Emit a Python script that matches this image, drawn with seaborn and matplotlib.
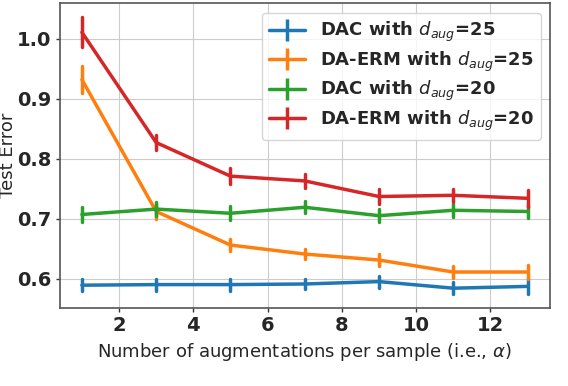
import seaborn as sns
import matplotlib
matplotlib.use("Agg")
import matplotlib.pyplot as plt
from matplotlib.lines import Line2D
import pandas as pd

alphas = [1, 3, 5, 7, 9, 11, 13]

dac_25 = [0.589, 0.590, 0.590, 0.591, 0.595, 0.584, 0.587]
dac_25_err = [0.010, 0.010, 0.010, 0.008, 0.010, 0.010, 0.012]
erm_25 = [0.932, 0.712, 0.656, 0.641, 0.631, 0.611, 0.611]
erm_25_err = [0.022, 0.012, 0.010, 0.008, 0.010, 0.010, 0.012]
dac_20 = [0.707, 0.716, 0.709, 0.719, 0.705, 0.714, 0.712]
dac_20_err = [0.012, 0.012, 0.012, 0.010, 0.011, 0.011, 0.011]
erm_20 = [1.011, 0.827, 0.771, 0.763, 0.737, 0.739, 0.734]
erm_20_err = [0.025, 0.013, 0.013, 0.012, 0.012, 0.011, 0.014]

labels = [r"DAC with $d_{aug}$=25", r"DA-ERM with $d_{aug}$=25",
          r"DAC with $d_{aug}$=20", r"DA-ERM with $d_{aug}$=20"]
means = [dac_25, erm_25, dac_20, erm_20]
errs = [dac_25_err, erm_25_err, dac_20_err, erm_20_err]

# two rows per point (mean -/+ err) so the min-max interval gives the bar
rows = []
for lab, m, e in zip(labels, means, errs):
    for x, v, d in zip(alphas, m, e):
        rows.append((lab, x, v - d))
        rows.append((lab, x, v + d))
df = pd.DataFrame(rows, columns=["method", "alpha", "error"])

sns.set_style("whitegrid", {"grid.color": "#cccccc", "axes.edgecolor": "#555555"})
colors = sns.color_palette("tab10", 4)

fig, ax = plt.subplots(figsize=(5.68, 3.86), dpi=100)
sns.lineplot(data=df, x="alpha", y="error", hue="method", hue_order=labels,
             palette=colors, errorbar=("pi", 100), err_style="bars",
             err_kws={"linewidth": 2.5, "capsize": 0}, linewidth=2.5,
             legend=False, ax=ax)

ax.set_xlabel(r"Number of augmentations per sample (i.e., $\alpha$)", fontsize=13)
ax.set_ylabel("Test Error", fontsize=13)
ax.yaxis.set_label_coords(-0.087, 0.5)
ax.set_xticks([2, 4, 6, 8, 10, 12])
ax.set_yticks([0.6, 0.7, 0.8, 0.9, 1.0])
for t in ax.get_xticklabels() + ax.get_yticklabels():
    t.set_fontweight("bold")
    t.set_fontsize(14)
ax.tick_params(length=3, width=1, color="#333333", pad=3, left=True, bottom=True)
for s in ax.spines.values():
    s.set_linewidth(1.2)

handles = []
for c in colors:
    h = Line2D([], [], color=c, linewidth=2.5)
    v = Line2D([], [], color=c, marker="|", markersize=16, markeredgewidth=2.5,
               linestyle="none")
    handles.append((h, v))
ax.legend(handles, labels, loc="upper right", prop={"weight": "bold", "size": 13},
          handlelength=2.0, labelspacing=0.3, borderpad=0.4)

fig.subplots_adjust(left=0.105, right=0.968, top=0.991, bottom=0.202)
fig.savefig("out.png", dpi=100)
